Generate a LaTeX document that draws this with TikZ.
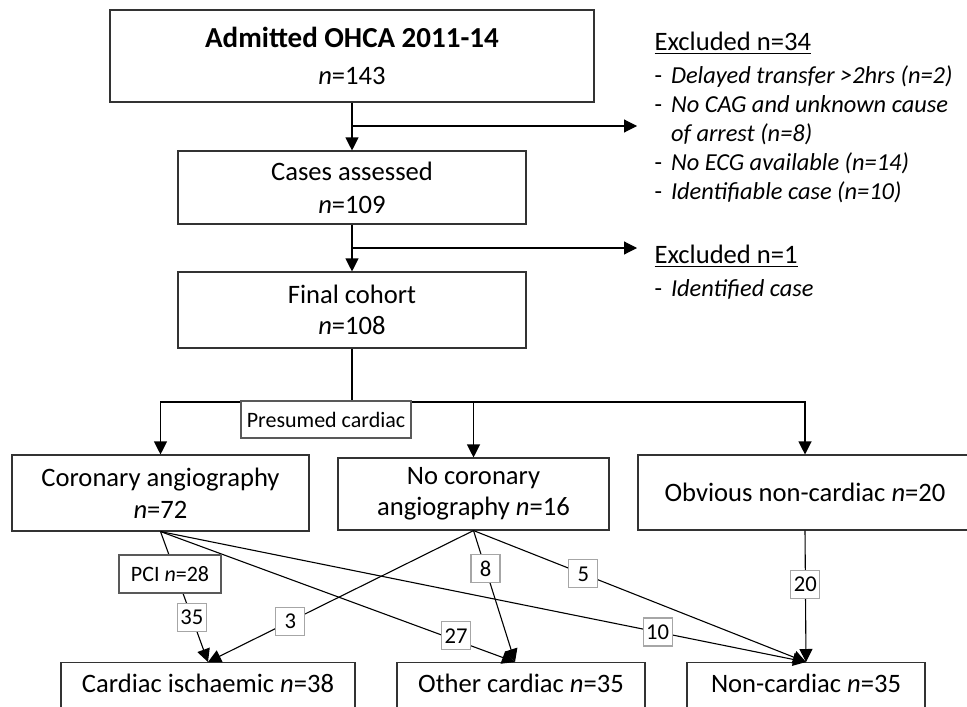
\documentclass[tikz,border=0pt]{standalone}
\usepackage{fontspec}
\setmainfont{Carlito}
\usetikzlibrary{arrows.meta,positioning}

\begin{document}
\begin{tikzpicture}[x=0.5pt,y=-0.5pt,line width=0.55pt,
  >={Triangle[length=6.5pt,width=6.5pt]},
  box/.style={draw=black!80,fill=white,align=center,font=\fontsize{13.3}{16.5}\selectfont},
  endbox/.style={draw=black!80,fill=white,anchor=north,inner ysep=3pt,text height=12pt,text depth=20pt,font=\fontsize{13.3}{16.5}\selectfont},
  tag/.style={draw=black!65,fill=white,inner sep=2pt,font=\fontsize{11}{13}\selectfont},
  lbl/.style={draw=black!35,fill=white,inner sep=1.5pt,minimum width=14.5pt,minimum height=14pt,font=\fontsize{11.3}{13}\selectfont}]
  \useasboundingbox (0,0) rectangle (967,706);
  \clip (0,0) rectangle (967,706);

  % main flow
  \node[box,minimum width=242pt,minimum height=46pt] (admit) at (352,56)
    {{\fontsize{14.5}{17}\selectfont\bfseries Admitted OHCA 2011-14}\\[2pt] \textit{n}=143};
  \node[box,minimum width=174pt,minimum height=36.5pt] (assessed) at (352,187.5)
    {Cases assessed\\ \textit{n}=109};
  \node[box,minimum width=174pt,minimum height=38pt] (cohort) at (352,310)
    {Final cohort\\[-1pt] \textit{n}=108};

  \coordinate (b1) at (352,126);
  \coordinate (e1) at (637,126);
  \coordinate (b2) at (352,248);
  \coordinate (e2) at (637,248);
  \draw[->] (admit.south) -- (assessed.north);
  \draw[->] (b1) -- (e1);
  \draw[->] (assessed.south) -- (cohort.north);
  \draw[->] (b2) -- (e2);

  % exclusions
  \node[anchor=north west,inner sep=0pt] (excl1) at (654,30) {\fontsize{12.2}{14.5}\selectfont
    \begin{tabular}{@{}l@{\hspace{4.5pt}}l@{}}
      \multicolumn{2}{@{}l@{}}{\fontsize{13.3}{16}\selectfont\underline{Excluded n=34}}\\[2pt]
      - & \textit{Delayed transfer >2hrs (n=2)}\\
      - & \textit{No CAG and unknown cause}\\
        & \textit{of arrest (n=8)}\\
      - & \textit{No ECG available (n=14)}\\
      - & \textit{Identifiable case (n=10)}
    \end{tabular}};
  \node[anchor=north west,inner sep=0pt] (excl2) at (654,243) {\fontsize{12.2}{14.5}\selectfont
    \begin{tabular}{@{}l@{\hspace{4.5pt}}l@{}}
      \multicolumn{2}{@{}l@{}}{\fontsize{13.3}{16}\selectfont\underline{Excluded n=1}}\\[2pt]
      - & \textit{Identified case}
    \end{tabular}};

  % split
  \node[box,minimum width=148.5pt,minimum height=38pt] (coronary) at (160.5,493)
    {Coronary angiography\\[-0.5pt] \textit{n}=72};
  \node[box,minimum width=135.5pt,minimum height=36pt] (nocor) at (473.5,494)
    {No coronary\\[-1pt] angiography \textit{n}=16};
  \node[box,minimum width=167pt,minimum height=37.5pt] (obvious) at (805,492.5)
    {Obvious non-cardiac \textit{n}=20};

  \coordinate (split) at (352,402);
  \draw (cohort.south) -- (split);
  \draw[->] (split) -| (coronary.north);
  \draw[->] (split) -| (nocor.north);
  \draw[->] (split) -| (obvious.north);
  \node[tag,minimum width=85pt,minimum height=18.5pt] (presumed) at (326,419.5) {Presumed cardiac};

  % outcomes
  \node[endbox,minimum width=147pt] (ischaemic) at (208,662) {Cardiac ischaemic \textit{n}=38};
  \node[endbox,minimum width=124pt] (other) at (521,662) {Other cardiac \textit{n}=35};
  \node[endbox,minimum width=119pt] (noncard) at (806,662) {Non-cardiac \textit{n}=35};

  \draw[->] (coronary.south) -- node[lbl,pos=0.66] {35} (ischaemic.north);
  \draw[->] (coronary.south) -- node[lbl,pos=0.8,xshift=6pt] {27} ([xshift=-3pt]other.north);
  \draw[->] (coronary.south) -- node[lbl,pos=0.77] {10} (noncard.north);
  \draw[->] (nocor.south) -- node[lbl,pos=0.69] {3} (ischaemic.north);
  \draw[->] (nocor.south) -- node[lbl,pos=0.29] {8} ([xshift=-3pt]other.north);
  \draw[->] (nocor.south) -- node[lbl,pos=0.33] {5} (noncard.north);
  \draw[->] (obvious.south) -- node[lbl,pos=0.41] {20} (noncard.north);
  \node[tag,minimum width=51pt,minimum height=19pt] (pci) at (170,574) {PCI \textit{n}=28};
\end{tikzpicture}
\end{document}
